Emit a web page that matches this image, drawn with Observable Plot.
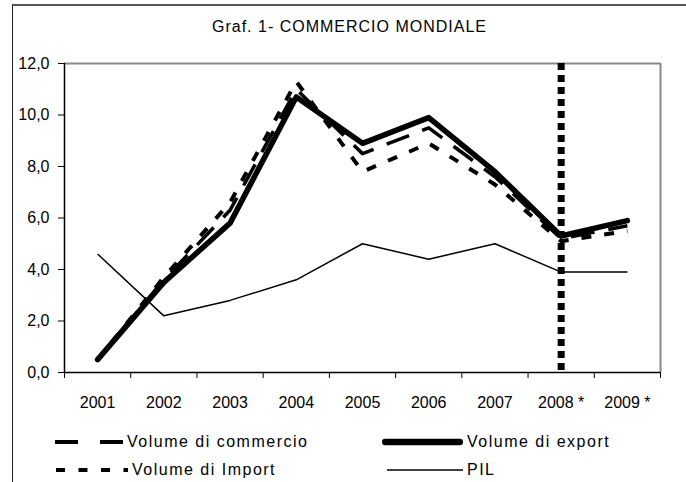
<!DOCTYPE html>
<html>
<head>
<meta charset="utf-8">
<script src="https://cdn.jsdelivr.net/npm/d3@7"></script>
<script src="https://cdn.jsdelivr.net/npm/@observablehq/plot@0.6"></script>
<style>
  body { margin: 0; background: #fff; font-family: "Liberation Sans", Arial, sans-serif; }
  #wrap { position: relative; width: 686px; height: 482px; overflow: hidden; background: #fff; }
  #frame { position: absolute; left: 12px; top: 4px; width: 720px; height: 520px;
           border-left: 1.5px solid #222; border-top: 2px solid #555; box-sizing: border-box; }
  #title { position: absolute; left: 13px; width: 673px; top: 18px; text-align: center;
           font-size: 16px; letter-spacing: 1px; color: #000; }
  #chart { position: absolute; left: 0; top: 45px; }
  .leg { position: absolute; display: flex; align-items: center; font-size: 16px;
         letter-spacing: 1.5px; color: #000; height: 20px; }
  .leg svg { display: block; margin-right: 2px; }
</style>
</head>
<body>
<div id="wrap">
  <div id="frame"></div>
  <div id="title"></div>
  <div id="chart"></div>
</div>
<script>
// ---- data ----
const titleText = "Graf. 1- COMMERCIO MONDIALE";
const categories = ["2001", "2002", "2003", "2004", "2005", "2006", "2007", "2008 *", "2009 *"];
const volumeCommercio = [0.5, 3.6, 6.3, 11.0, 8.5, 9.5, 7.6, 5.2, 5.7];
const volumeExport    = [0.5, 3.5, 5.8, 10.7, 8.9, 9.9, 7.8, 5.3, 5.9];
const volumeImport    = [0.5, 3.7, 6.6, 11.3, 7.8, 8.9, 7.3, 5.1, 5.5];
const pil             = [4.6, 2.2, 2.8, 3.6, 5.0, 4.4, 5.0, 3.9, 3.9];
const yTicks = [0, 2, 4, 6, 8, 10, 12];
const forecastStart = "2008 *";
const seriesNames = ["Volume di commercio", "Volume di export", "Volume di Import", "PIL"];

document.getElementById("title").textContent = titleText;

const pos = (d, i) => i + 0.5;
const styles = {
  "Volume di commercio": {strokeWidth: 3.5, strokeDasharray: "24,14", strokeLinecap: "butt"},
  "Volume di export":    {strokeWidth: 5.5, strokeLinecap: "round"},
  "Volume di Import":    {strokeWidth: 4, strokeDasharray: "10,13", strokeLinecap: "butt"},
  "PIL":                 {strokeWidth: 1.5, strokeLinecap: "butt"}
};
const seriesData = {
  "Volume di commercio": volumeCommercio,
  "Volume di export": volumeExport,
  "Volume di Import": volumeImport,
  "PIL": pil
};

const fIdx = categories.indexOf(forecastStart) + 0.5;

const chart = Plot.plot({
  width: 686,
  height: 375,
  marginTop: 18,
  marginBottom: 48,
  marginLeft: 64,
  marginRight: 26,
  style: {fontFamily: "Liberation Sans, Arial, sans-serif", fontSize: "16px", color: "#000", background: "transparent"},
  x: {type: "linear", domain: [0, categories.length], axis: null},
  y: {domain: [yTicks[0], yTicks[yTicks.length - 1]], axis: null},
  marks: [
    Plot.ruleY([yTicks[yTicks.length - 1]], {stroke: "#888", strokeWidth: 2}),
    Plot.ruleX([categories.length], {stroke: "#888", strokeWidth: 2}),
    Plot.axisY({ticks: yTicks, tickFormat: d => d.toFixed(1).replace(".", ","), tickSize: 6, tickPadding: 9, label: null, stroke: "#000", fill: "#000", fontSize: 16}),
    Plot.axisX({ticks: d3.range(0, categories.length + 1), tickFormat: () => "", tickSize: 6, label: null, stroke: "#000"}),
    Plot.ruleX([0], {stroke: "#000", strokeWidth: 1.5}),
    Plot.ruleY([0], {stroke: "#000", strokeWidth: 1.5}),
    Plot.text(categories, {x: pos, y: 0, dy: 30, text: d => d, fill: "#000", fontSize: 16}),
    Plot.ruleX([fIdx], {y1: yTicks[yTicks.length - 1], y2: 0, stroke: "#000", strokeWidth: 7, strokeDasharray: "7,5"}),
    ...["PIL", "Volume di Import", "Volume di commercio", "Volume di export"].map(name =>
      Plot.line(seriesData[name], {x: pos, y: d => d, stroke: "#000", strokeLinejoin: "round", ...styles[name]})
    )
  ]
});
document.getElementById("chart").appendChild(chart);

// ---- legend ----
const legendLayout = [
  {name: seriesNames[0], left: 55, top: 432, w: 70},
  {name: seriesNames[1], left: 382, top: 432, w: 83},
  {name: seriesNames[2], left: 56, top: 460, w: 74},
  {name: seriesNames[3], left: 387, top: 460, w: 78}
];
const legendSwatch = {
  "Volume di commercio": {sw: 4, dash: "23,22", cap: "butt"},
  "Volume di export": {sw: 6.5, dash: null, cap: "round"},
  "Volume di Import": {sw: 4, dash: "9,13.5", cap: "butt"},
  "PIL": {sw: 1.5, dash: null, cap: "butt"}
};
const wrap = document.getElementById("wrap");
legendLayout.forEach(it => {
  const s = legendSwatch[it.name];
  const div = document.createElement("div");
  div.className = "leg";
  div.style.left = it.left + "px";
  div.style.top = it.top + "px";
  const pad = s.cap === "round" ? s.sw / 2 : 0;
  div.innerHTML = `<svg width="${it.w}" height="20"><line x1="${pad}" x2="${it.w - pad - 2}" y1="10" y2="10" stroke="#000" stroke-width="${s.sw}" stroke-linecap="${s.cap}" ${s.dash ? `stroke-dasharray="${s.dash}"` : ""}/></svg><span>${it.name}</span>`;
  wrap.appendChild(div);
});
</script>
</body>
</html>
